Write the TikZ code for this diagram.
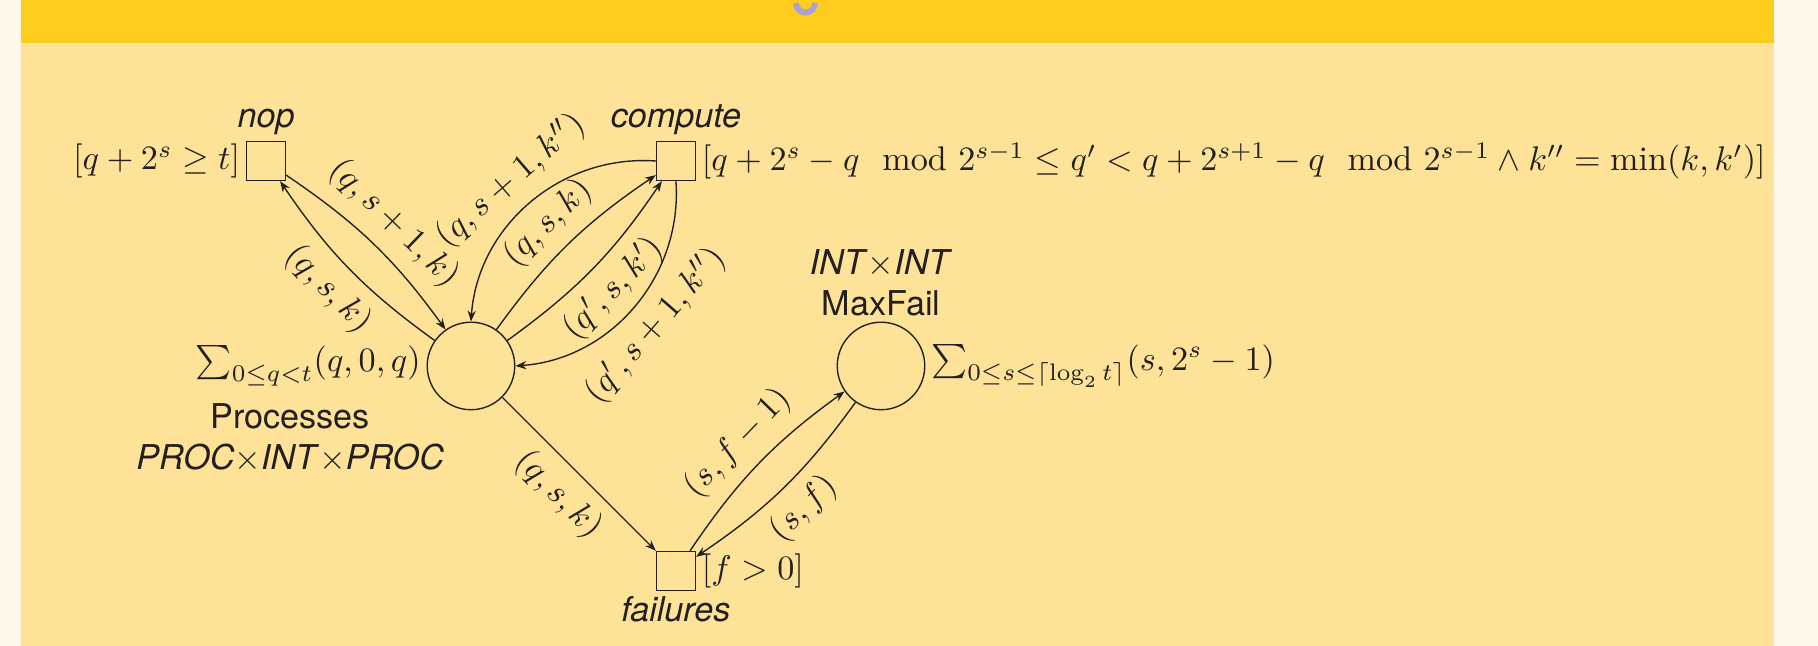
\documentclass[tikz,border=0pt]{standalone}
\usepackage{amsmath,amssymb}
\usepackage{fontspec}
\setsansfont{TeX Gyre Heros}
\usetikzlibrary{arrows.meta,positioning}
\definecolor{bandyellow}{RGB}{253,204,31}
\definecolor{panelyellow}{RGB}{253,226,151}
\definecolor{pagecream}{RGB}{255,248,232}
\definecolor{titlepurple}{RGB}{169,162,211}
\definecolor{inkgray}{RGB}{35,31,32}
\tikzset{
  petriplace/.style={circle,draw,inner sep=0pt,minimum size=9mm},
  petritrans/.style={rectangle,draw,inner sep=0pt,minimum size=4mm},
  every label/.style={inner sep=1.5pt,font=\sffamily}
}

\begin{document}
\begin{tikzpicture}[>={Stealth[length=3.2pt,width=2.4pt]},draw=inkgray,text=inkgray]
  \useasboundingbox (-4.844,-2.880) rectangle (13.854,3.764);
  \fill[pagecream] (-4.844,-2.880) rectangle (13.854,3.764);
  \fill[bandyellow] (-4.628,3.322) rectangle (13.401,3.764);
  \fill[panelyellow] (-4.628,-2.880) rectangle (13.401,3.322);
  \draw[titlepurple,line width=1.75pt] (3.342,3.733) arc (180:360:0.098);

  \node[petriplace,
    label={left:{$\sum_{0\le q<t}(q,0,q)$}},
    label={[align=center,xshift=3pt]below left:{Processes\\\textit{PROC}$\times$\textit{INT}$\times$\textit{PROC}}}]
    (proc) at (0,0) {};
  \node[petritrans,label={above:\textit{nop}},label={left:{$[q+2^s\ge t]$}}] (nop) at (-2.108,2.108) {};
  \node[petritrans,label={above:\textit{compute}},
    label={right:{$[q+2^s-q\mod{2^{s-1}}\le q'<q+2^{s+1}-q\mod{2^{s-1}}\wedge k''=\min(k,k')]$}}]
    (comp) at (2.108,2.108) {};
  \node[petritrans,label={below:\textit{failures}},label={right:{$[f>0]$}}] (fail) at (2.108,-2.108) {};
  \node[petriplace,
    label={[align=center]above:{\textit{INT}$\times$\textit{INT}\\MaxFail}},
    label={right:{$\sum_{0\le s\le\lceil\log_2 t\rceil}(s,2^s-1)$}}]
    (maxf) at (4.217,0) {};

  \draw[->] (proc) to[bend left=10] node[sloped,below] {$(q,s,k)$} (nop);
  \draw[->] (nop) to[bend left=10] node[sloped,above] {$(q,s+1,k)$} (proc);
  \draw[->] (comp) to[bend right=45] node[sloped,above] {$(q,s+1,k'')$} (proc);
  \draw[->] (proc) to[bend left=10] node[sloped,above] {$(q,s,k)$} (comp);
  \draw[->] (proc) to[bend right=10] node[sloped,below] {$(q',s,k')$} (comp);
  \draw[->] (comp) to[bend left=45] node[sloped,below] {$(q',s+1,k'')$} (proc);
  \draw[->] (proc) -- node[sloped,below] {$(q,s,k)$} (fail);
  \draw[->] (fail) to[bend left=10] node[sloped,above] {$(s,f-1)$} (maxf);
  \draw[->] (maxf) to[bend left=10] node[sloped,below] {$(s,f)$} (fail);
\end{tikzpicture}
\end{document}
